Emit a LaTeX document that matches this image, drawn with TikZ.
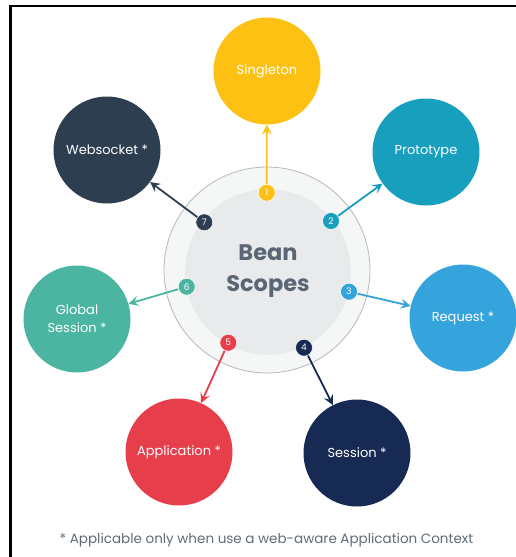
\documentclass[tikz,border=0pt]{standalone}
\usepackage{fontspec}
\setmainfont{Poppins}
\usetikzlibrary{arrows.meta,positioning}
\definecolor{bsyellow}{HTML}{FDC113}
\definecolor{bsteal}{HTML}{189FBD}
\definecolor{bsblue}{HTML}{36A4DC}
\definecolor{bsnavy}{HTML}{172A54}
\definecolor{bsred}{HTML}{E63E4B}
\definecolor{bsgreen}{HTML}{4BB5A2}
\definecolor{bsslate}{HTML}{2D3E50}
\definecolor{bsring}{HTML}{F5F6F6}
\definecolor{bsringline}{HTML}{B5B9BE}
\definecolor{bsinner}{HTML}{E9EAEC}
\definecolor{bstitle}{HTML}{5A6675}
\definecolor{bsnote}{HTML}{5F6B77}

\begin{document}
\begin{tikzpicture}[x=1pt, y=-1pt,
  every node/.style={font=\fontsize{13}{18}\selectfont, align=center},
  scopecircle/.style={circle, minimum size=107pt, inner sep=0pt, text=white},
  badge/.style={circle, minimum size=17pt, inner sep=0pt, draw=white,
                line width=0.6pt, text=white, font=\fontsize{9}{10}\selectfont},
  link/.style={-{Stealth[length=10pt, width=10pt, inset=4pt]}, line width=1.8pt},
]
\useasboundingbox (0,0) rectangle (516,557);

% === Frame ===
\draw[line width=2.5pt] (10.5,557) -- (10.5,5.8) -- (516,5.8);

% === Hub ===
\node[circle, minimum size=206pt, fill=bsring, draw=bsringline, line width=0.8pt]
      (hub) at (267,270) {};
\node[circle, minimum size=166pt, fill=bsinner] (core) at (268,272) {};
\node[font=\fontsize{22.5}{31}\selectfont\bfseries, text=bstitle]
      (title) at (268,271) {Bean\\Scopes};

% === Scopes ===
\node[scopecircle, fill=bsyellow] (singleton) at (267,71) {Singleton};
\node[scopecircle, fill=bsteal] (prototype) at (426,152) {Prototype};
\node[scopecircle, fill=bsblue] (request) at (463,318) {Request *};
\node[scopecircle, fill=bsnavy] (session) at (357,453) {Session *};
\node[scopecircle, fill=bsred] (application) at (179,452) {Application *};
\node[scopecircle, fill=bsgreen] (global) at (77,319) {Global\\Session *};
\node[scopecircle, fill=bsslate] (websocket) at (107,150) {Websocket *};

% === Badges ===
\node[badge, fill=bsyellow] (b1) at (266.7,192.7) {1};
\node[badge, fill=bsteal] (b2) at (331,221) {2};
\node[badge, fill=bsblue] (b3) at (349,291.7) {3};
\node[badge, fill=bsnavy] (b4) at (304,347.7) {4};
\node[badge, fill=bsred] (b5) at (228.3,342.7) {5};
\node[badge, fill=bsgreen] (b6) at (186.7,286.7) {6};
\node[badge, fill=bsslate] (b7) at (204.3,222.3) {7};

% === Arrows ===
\draw[link, bsyellow] (b1) -- (singleton);
\draw[link, bsteal] (b2) -- (prototype);
\draw[link, bsblue] (b3) -- (request);
\draw[link, bsnavy] (b4) -- (session);
\draw[link, bsred] (b5) -- (application);
\draw[link, bsgreen] (b6) -- (global);
\draw[link, bsslate] (b7) -- (websocket);

% Footnote
\node[font=\fontsize{13.5}{16}\selectfont, text=bsnote] (note) at (266.5,540)
      {* Applicable only when use a web-aware Application Context};

\end{tikzpicture}
\end{document}
